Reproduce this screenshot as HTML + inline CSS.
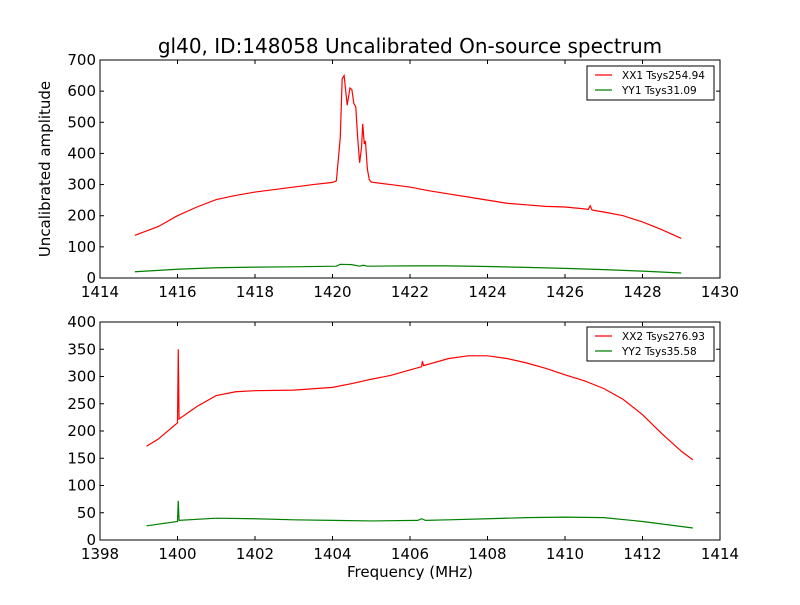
<!DOCTYPE html>
<html><head><meta charset="utf-8"><style>
body{margin:0;background:#fff;}
svg text{font-family:"DejaVu Sans","Liberation Sans",sans-serif;}
</style></head><body>
<svg id="c" width="800" height="600" xmlns="http://www.w3.org/2000/svg">
<rect width="800" height="600" fill="#fff"/>
</svg>
<script>
const topXX = [1414.9,1415.5,1416,1416.5,1417,1417.5,1418,1418.5,1419,1419.5,1420,1420.1,1420.2,1420.25,1420.3,1420.35,1420.38,1420.45,1420.5,1420.55,1420.6,1420.65,1420.7,1420.75,1420.78,1420.82,1420.85,1420.9,1420.95,1421,1421.5,1422,1422.5,1423,1423.5,1424,1424.5,1425,1425.5,1426,1426.5,1426.6,1426.65,1426.7,1427,1427.5,1428,1428.5,1429];
const topXXv = [137,165,200,228,252,265,276,284,292,300,307,312,450,640,650,590,555,610,605,560,550,450,370,420,495,430,440,350,315,308,300,292,280,270,260,250,240,235,230,228,222,220,232,218,212,200,180,155,127];
const topYY = [1414.9,1416,1417,1418,1419,1420.1,1420.2,1420.5,1420.7,1420.8,1420.9,1422,1423,1424,1425,1426,1427,1428,1429];
const topYYv = [20,28,33,35,36,38,44,43,38,41,38,39,39,37,34,31,27,22,16];
const botXX = [1399.2,1399.5,1400,1400.02,1400.04,1400.5,1401,1401.5,1402,1403,1404,1404.5,1405,1405.5,1406,1406.3,1406.32,1406.35,1407,1407.5,1408,1408.5,1409,1409.5,1410,1410.5,1411,1411.5,1412,1412.5,1413,1413.3];
const botXXv = [172,185,215,350,222,245,265,272,274,275,280,287,295,302,312,318,328,320,333,338,338,333,325,315,303,292,278,258,230,195,163,147];
const botYY = [1399.2,1400,1400.02,1400.04,1401,1402,1403,1404,1405,1406.2,1406.3,1406.4,1407,1408,1409,1410,1411,1412,1413.3];
const botYYv = [26,34,72,36,40,39,37,36,35,36,39,36,37,39,41,42,41,34,22];
const topXTicks = [1414,1416,1418,1420,1422,1424,1426,1428,1430];
const topYTicks = [0,100,200,300,400,500,600,700];
const botXTicks = [1398,1400,1402,1404,1406,1408,1410,1412,1414];
const botYTicks = [0,50,100,150,200,250,300,350,400];

const svg=document.getElementById('c');
const NS='http://www.w3.org/2000/svg';
function mk(t,a,p){const e=document.createElementNS(NS,t);for(const k in a)e.setAttribute(k,a[k]);(p||svg).appendChild(e);return e;}

function panel(name,top,bot,xmin,xmax,ymax,xt,yt,series,legend,lx,ly){
  const L=100,R=720;
  const sx=v=>L+(v-xmin)/(xmax-xmin)*(R-L);
  const sy=v=>bot-v/ymax*(bot-top);
  const g=mk('g',{});
  
  
  series.forEach(s=>{
    const p=mk('polyline',{points:s.x.map((x,i)=>sx(x)+','+sy(s.y[i])).join(' '),fill:'none',stroke:s.c,'stroke-width':1.2},g);
    
    
  });
  const fr=mk('rect',{x:L,y:top,width:R-L,height:bot-top,fill:'none',stroke:'#000','stroke-width':1},g);
  
  
  xt.forEach(v=>{const x=sx(v);
    mk('line',{x1:x,x2:x,y1:bot,y2:bot-4,stroke:'#000'},g);
    mk('line',{x1:x,x2:x,y1:top,y2:top+4,stroke:'#000'},g);
    const t=mk('text',{x:x,y:bot+19,'font-size':15,'text-anchor':'middle'},g);t.textContent=v;
    
    
  });
  yt.forEach(v=>{const y=sy(v);
    mk('line',{x1:L,x2:L+4,y1:y,y2:y,stroke:'#000'},g);
    mk('line',{x1:R,x2:R-4,y1:y,y2:y,stroke:'#000'},g);
    const t=mk('text',{x:L-4,y:y+5,'font-size':15,'text-anchor':'end'},g);t.textContent=v;
    
    
  });
  const lg=mk('g',{},g);
  
  
  mk('rect',{x:lx,y:ly,width:127,height:34,fill:'#fff',stroke:'#000'},lg);
  legend.forEach((l,i)=>{
    const yy=ly+9+i*15;
    mk('line',{x1:lx+8,x2:lx+25,y1:yy,y2:yy,stroke:l.c,'stroke-width':1.2},lg);
    const t=mk('text',{x:lx+35,y:yy+4,'font-size':10.5},lg);t.textContent=l.t;
    
    
  });
}
panel('top',60,278,1414,1430,700,topXTicks,topYTicks,
  [{x:topXX,y:topXXv,c:'#ff0000',n:'xx1'},{x:topYY,y:topYYv,c:'#008000',n:'yy1'}],
  [{c:'#ff0000',t:'XX1 Tsys254.94'},{c:'#008000',t:'YY1 Tsys31.09'}],587,66);
panel('bottom',322,540,1398,1414,400,botXTicks,botYTicks,
  [{x:botXX,y:botXXv,c:'#ff0000',n:'xx2'},{x:botYY,y:botYYv,c:'#008000',n:'yy2'}],
  [{c:'#ff0000',t:'XX2 Tsys276.93'},{c:'#008000',t:'YY2 Tsys35.58'}],587,327);
let t=mk('text',{x:410,y:53,'font-size':20,'text-anchor':'middle'});t.textContent='gl40, ID:148058 Uncalibrated On-source spectrum';


t=mk('text',{x:410,y:577,'font-size':15,'text-anchor':'middle'});t.textContent='Frequency (MHz)';


t=mk('text',{x:0,y:0,'font-size':15,'text-anchor':'middle',transform:'translate(50,169) rotate(-90)'});t.textContent='Uncalibrated amplitude';


</script>
</body></html>
